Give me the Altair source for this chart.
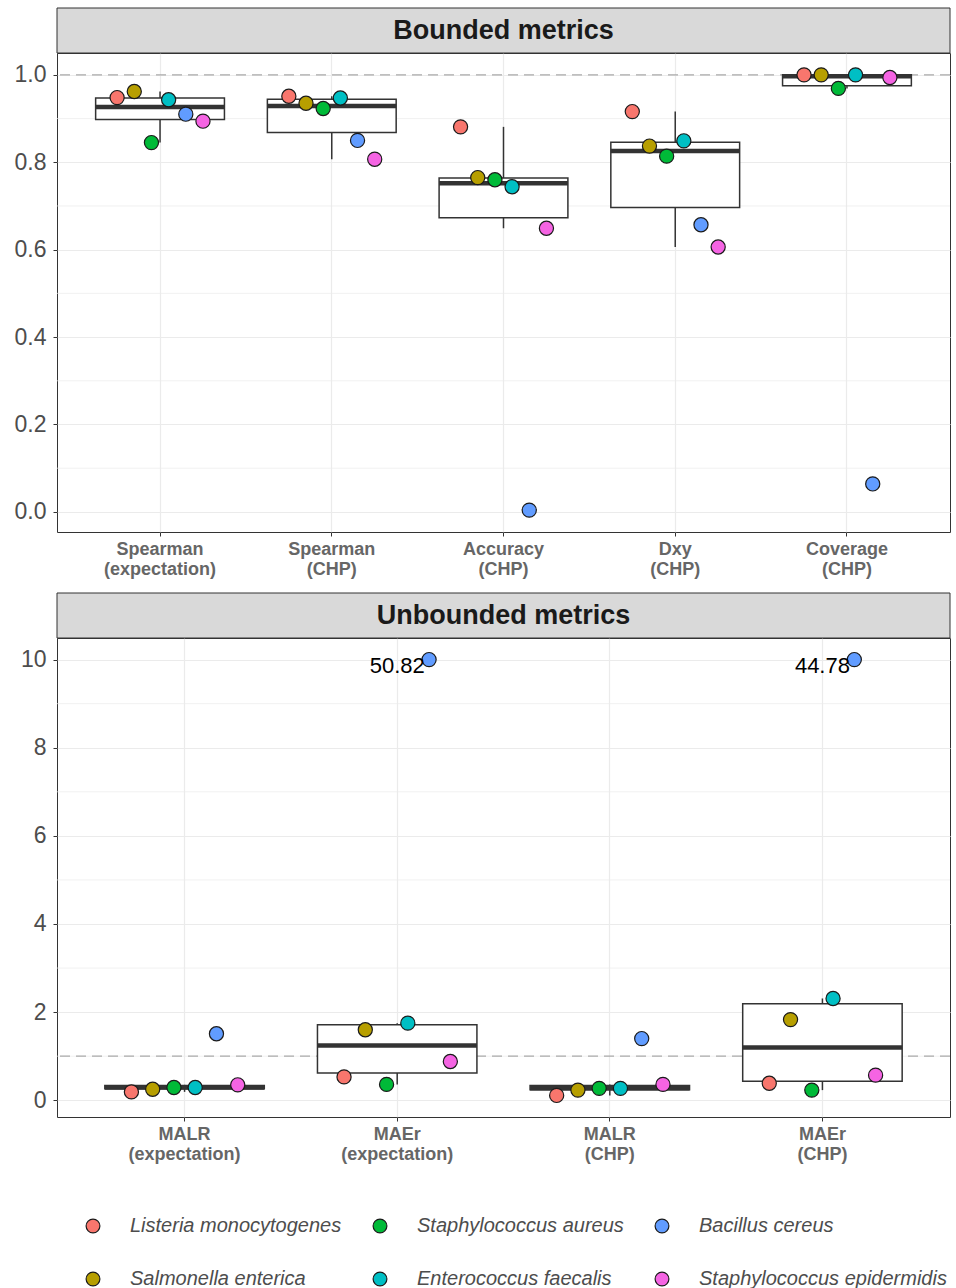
import altair as alt
import pandas as pd

# ---------------- data ----------------
species = ["Listeria monocytogenes", "Salmonella enterica", "Staphylococcus aureus",
           "Enterococcus faecalis", "Bacillus cereus", "Staphylococcus epidermidis"]
species_colors = ["#F8766D", "#B79F00", "#00BA38", "#00BFC4", "#619CFF", "#F564E3"]

bounded_metrics = ["Spearman (expectation)", "Spearman (CHP)", "Accuracy (CHP)",
                   "Dxy (CHP)", "Coverage (CHP)"]
# values listed in species order
spearman_expectation = [0.948, 0.962, 0.845, 0.943, 0.910, 0.894]
spearman_chp = [0.951, 0.935, 0.923, 0.947, 0.850, 0.807]
accuracy_chp = [0.881, 0.765, 0.760, 0.744, 0.004, 0.649]
dxy_chp = [0.916, 0.837, 0.814, 0.849, 0.657, 0.606]
coverage_chp = [1.000, 1.000, 0.969, 1.000, 0.064, 0.994]

unbounded_metrics = ["MALR (expectation)", "MAEr (expectation)", "MALR (CHP)", "MAEr (CHP)"]
malr_expectation = [0.19, 0.25, 0.29, 0.29, 1.51, 0.35]
maer_expectation = [0.53, 1.60, 0.36, 1.75, 50.82, 0.88]
malr_chp = [0.11, 0.23, 0.27, 0.27, 1.40, 0.36]
maer_chp = [0.385, 1.83, 0.23, 2.31, 44.78, 0.57]

cap = 10.0
bounded_ticks = [0.0, 0.2, 0.4, 0.6, 0.8, 1.0]
bounded_minor = [0.1, 0.3, 0.5, 0.7, 0.9]
unbounded_ticks = [0, 2, 4, 6, 8, 10]
unbounded_minor = [1, 3, 5, 7, 9]
reference_line = [1.0]


def long_table(metrics, series):
    rows = []
    for m, vals in zip(metrics, series):
        for s, v in zip(species, vals):
            rows.append({"metric": m, "species": s, "raw": v, "y": min(v, cap)})
    return pd.DataFrame(rows)


bounded_df = long_table(bounded_metrics, [spearman_expectation, spearman_chp, accuracy_chp,
                                          dxy_chp, coverage_chp])
unbounded_df = long_table(unbounded_metrics, [malr_expectation, maer_expectation,
                                              malr_chp, maer_chp])

W = 893
H = 479
DARK = "#333333"
GRID = "#ebebeb"


def panel(df, metrics, title, domain, ticks, minor, fmt):
    band = W / (len(metrics) + 0.2)
    xscale = alt.Scale(domain=metrics, paddingInner=0, paddingOuter=0.1)
    x_enc = alt.X("metric:N", scale=xscale, sort=metrics,
                  axis=alt.Axis(title=None, labelAngle=0, labelExpr="split(datum.label, ' ')",
                                bandPosition=0.5, grid=True, gridColor=GRID, gridWidth=1.2,
                                labelFontWeight="bold", labelFontSize=18, labelColor="#666666",
                                labelLineHeight=20, labelPadding=4, tickSize=4,
                                tickColor=DARK, domain=False))
    yscale = alt.Scale(domain=domain, nice=False, zero=False)
    y_enc = alt.Y("y:Q", scale=yscale, title=None,
                  axis=alt.Axis(values=ticks, format=fmt, grid=True, gridColor=GRID,
                                gridWidth=1.2, labelFontSize=23, labelColor="#4d4d4d",
                                labelPadding=7, tickSize=4, tickColor=DARK, domain=False))

    minor_layer = alt.Chart(pd.DataFrame({"y": minor})).mark_rule(
        color=GRID, strokeWidth=0.7).encode(y=y_enc)
    ref_layer = alt.Chart(pd.DataFrame({"y": reference_line})).mark_rule(
        color="#aaaaaa", strokeDash=[10, 6], strokeWidth=1.3).encode(y=y_enc)

    box = alt.Chart(df).mark_boxplot(
        extent=1.5, outliers=False, ticks=False, size=band * 0.75,
        box={"fill": "white", "stroke": DARK, "strokeWidth": 1.5, "opacity": 1},
        median={"color": DARK, "thickness": 4.5, "opacity": 1},
        rule={"color": DARK, "strokeWidth": 1.5, "opacity": 1},
    ).encode(x=x_enc, y=y_enc)

    points = alt.Chart(df).mark_point(
        shape="circle", filled=True, size=200, stroke="#1a1a1a", strokeWidth=1.2, opacity=1
    ).encode(
        x=x_enc, y=y_enc,
        xOffset=alt.XOffset("species:N",
                            scale=alt.Scale(domain=species, paddingInner=0, paddingOuter=0,
                                            range=[band * 0.25, band * 0.75])),
        fill=alt.Fill("species:N",
                      scale=alt.Scale(domain=species, range=species_colors),
                      legend=alt.Legend(title=None, orient="none", direction="vertical",
                                        legendX=26, legendY=1163,
                                        columns=3, labelFontSize=20, labelFontStyle="italic",
                                        labelColor="#4d4d4d", labelLimit=400, symbolSize=190,
                                        symbolStrokeColor="#1a1a1a", symbolStrokeWidth=1.2,
                                        labelOffset=27, columnPadding=28, rowPadding=33,
                                        symbolType="circle")),
    )

    over = df[df["raw"] > cap].copy()
    over["label"] = over["raw"].map(lambda v: f"{v:.2f}")
    labels = alt.Chart(over).mark_text(fontSize=22, color="black", dy=6).encode(
        x=x_enc, y=y_enc, text="label:N")

    strip_df = pd.DataFrame({"t": [title]})
    strip = alt.Chart(strip_df).mark_rect(fill="#d9d9d9", stroke=DARK, strokeWidth=1).encode(
        x=alt.value(0), x2=alt.value(W), y=alt.value(-45), y2=alt.value(0))
    strip_text = alt.Chart(strip_df).mark_text(
        fontSize=27, fontWeight="bold", color="#1a1a1a").encode(
        x=alt.value(W / 2), y=alt.value(-22), text="t:N")

    return alt.layer(minor_layer, ref_layer, box, points, labels, strip, strip_text).properties(
        width=W, height=H)


top = panel(bounded_df, bounded_metrics, "Bounded metrics", [-0.046, 1.05],
            bounded_ticks, bounded_minor, ".1f")
bottom = panel(unbounded_df, unbounded_metrics, "Unbounded metrics", [-0.38, 10.49],
               unbounded_ticks, unbounded_minor, "d")

chart = alt.vconcat(top, bottom, spacing=13).resolve_scale(
    x="independent", y="independent", xOffset="independent", fill="shared"
).properties(
    padding={"left": 13, "top": 7, "right": 2, "bottom": 2}
).configure(font="Liberation Sans").configure_view(stroke=DARK, strokeWidth=1)

chart.save("out.html", embed_options={"renderer": "svg", "actions": False})
